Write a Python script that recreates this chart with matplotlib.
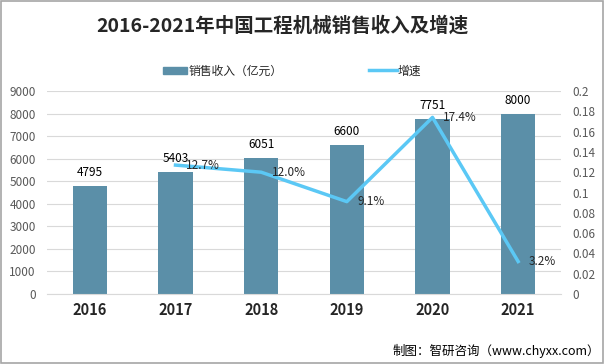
import numpy as np
import matplotlib.pyplot as plt
from matplotlib.patches import Rectangle
from matplotlib.lines import Line2D

plt.rcParams['font.family'] = ['Noto Sans CJK SC', 'DejaVu Sans']

# 数据
years   = ['2016', '2017', '2018', '2019', '2020', '2021']
revenue = [4795, 5403, 6051, 6600, 7751, 8000]
growth  = [None, 0.127, 0.120, 0.091, 0.174, 0.032]
growth_labels = ['', '12.7%', '12.0%', '9.1%', '17.4%', '3.2%']

bar_color  = '#5b8fa8'
line_color = '#5bc8f5'
tick_color = '#595959'

fig = plt.figure(figsize=[6.05, 3.64], dpi=100)
ax = fig.add_axes([47/605, 1-294/364, (561-47)/605, (294-91)/364])

x = np.arange(len(years))
ax.bar(x, revenue, width=0.4, color=bar_color, zorder=2)
for xi, v in zip(x, revenue):
    ax.text(xi, v + 300, str(v), ha='center', va='bottom', fontsize=8.5, color='black')

ax.set_ylim(0, 9000)
ax.set_xlim(-0.5, len(years) - 0.5)
ax.set_yticks(np.arange(0, 9001, 1000))
ax.grid(axis='y', color='#d9d9d9', linewidth=0.8, zorder=0)
ax.set_axisbelow(True)
for s in ax.spines.values():
    s.set_visible(False)
ax.spines['bottom'].set_visible(True)
ax.spines['bottom'].set_color('#d9d9d9')
ax.tick_params(axis='y', length=0, labelsize=8.5, labelcolor=tick_color, pad=8)
ax.tick_params(axis='x', length=0, pad=6)
ax.set_xticks(x)
ax.set_xticklabels(years, fontsize=10.5, fontweight='bold', color='#262626')

ax2 = ax.twinx()
gx = x[1:]
gy = growth[1:]
ax2.plot(gx, gy, color=line_color, linewidth=2.5, zorder=3)
for xi, v, lab in zip(gx, gy, growth_labels[1:]):
    ax2.text(xi + 0.12, v, lab, ha='left', va='center', fontsize=8.5, color='#262626')
ax2.set_ylim(0, 0.2)
ax2.set_yticks(np.arange(0, 0.201, 0.02))
ax2.set_yticklabels(['0', '0.02', '0.04', '0.06', '0.08', '0.1', '0.12', '0.14',
                     '0.16', '0.18', '0.2'])
ax2.tick_params(axis='y', length=0, labelsize=8.5, labelcolor=tick_color, pad=8)
for s in ax2.spines.values():
    s.set_visible(False)

# 标题
fig.text(282/605, 1-26/364, '2016-2021年中国工程机械销售收入及增速', ha='center', va='center',
         fontsize=14, fontweight='bold', color='#262626')

# 图例
fig.patches.append(Rectangle((163/605, 1-74/364), 24/605, 7/364, transform=fig.transFigure,
                             color=bar_color))
fig.text(189/605, 1-71/364, '销售收入（亿元）', ha='left', va='center', fontsize=8.5, color='#262626')
fig.lines.append(Line2D([369/605, 397/605], [1-70/364, 1-70/364], transform=fig.transFigure,
                        color=line_color, linewidth=2.5))
fig.text(398/605, 1-71/364, '增速', ha='left', va='center', fontsize=8.5, color='#262626')

# 来源
fig.text(600/605, 1-351/364, '制图：智研咨询（www.chyxx.com）', ha='right', va='center',
         fontsize=9, color='black')

# 边框
fig.patches.append(Rectangle((0.002, 0.003), 0.995, 0.994, transform=fig.transFigure,
                             fill=False, edgecolor='#a6a6a6', linewidth=1.2))

plt.savefig('out.png', dpi=100)
